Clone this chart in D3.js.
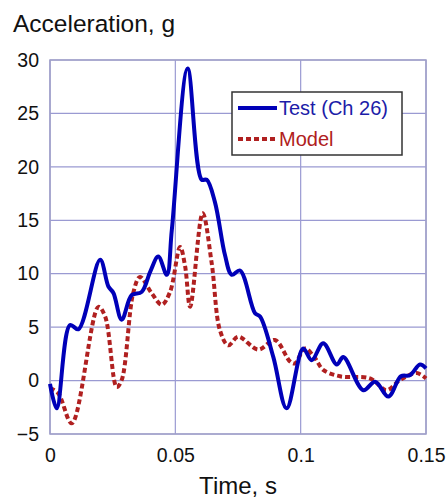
<!DOCTYPE html>
<html><head><meta charset="utf-8">
<script src="https://cdn.jsdelivr.net/npm/d3@7"></script>
<style>body{margin:0;background:#fff}svg{display:block}</style>
</head><body>
<script>
const testT = [0,0.0027,0.008,0.0113,0.02,0.0233,0.0253,0.0286,0.0326,0.0366,0.04,0.0432,0.0466,0.0486,0.0549,0.0605,0.0625,0.0658,0.0698,0.0725,0.0758,0.0818,0.0838,0.0891,0.0944,0.101,0.1044,0.109,0.1144,0.117,0.125,0.1297,0.135,0.140,0.1436,0.1476,0.150];
const testV = [-0.3,-2.6,5.2,4.8,11.3,8.8,8.2,5.7,8.0,8.3,10.2,11.6,9.9,14.1,29.2,18.8,18.8,16.7,11.75,9.9,10.3,6.3,6.0,2.2,-2.6,3.0,1.9,3.5,1.5,2.2,-0.9,-0.1,-1.5,0.4,0.5,1.5,1.15];
const modelT = [0,0.0033,0.0087,0.0193,0.022,0.0266,0.0286,0.0332,0.0359,0.0405,0.0446,0.0479,0.0519,0.0539,0.0559,0.0609,0.0645,0.0678,0.0711,0.0751,0.0831,0.0897,0.0957,0.0977,0.1017,0.1057,0.109,0.1157,0.1277,0.1343,0.1396,0.1463,0.150];
const modelV = [-0.7,-1.2,-4.0,6.9,6.0,-0.6,0.05,8.2,9.7,8.2,7.1,8.3,12.5,10.7,6.9,15.65,11.0,4.7,3.3,4.1,2.9,3.8,1.8,1.6,3.0,2.1,1.0,0.4,0.2,-0.9,0.05,0.7,0.2];
const xTicks = [0,0.05,0.1,0.15];
const xTickLabels = ["0","0.05","0.1","0.15"];
const yTicks = [-5,0,5,10,15,20,25,30];
const seriesNames = ["Test (Ch 26)","Model"];

const W=447,H=500;
const svg=d3.select("body").append("svg").attr("width",W).attr("height",H);
const font="'Liberation Sans', Arial, sans-serif";
const x=d3.scaleLinear().domain([0,0.15]).range([50,426]);
const y=d3.scaleLinear().domain([-5,30]).range([434,60]);
const gridC="#9a9ad2";

const grid=svg.append("g");
grid.selectAll(".gx").data(xTicks).enter().append("line")
 .attr("x1",d=>x(d)).attr("x2",d=>x(d)).attr("y1",y(-5)).attr("y2",y(30))
 .attr("stroke",gridC).attr("stroke-width",1.2);
grid.selectAll(".gy").data(yTicks).enter().append("line")
 .attr("x1",x(0)).attr("x2",x(0.15)).attr("y1",d=>y(d)).attr("y2",d=>y(d))
 .attr("stroke",gridC).attr("stroke-width",1.2);
svg.append("rect").attr("x",x(0)).attr("y",y(30)).attr("width",x(0.15)-x(0)).attr("height",y(-5)-y(30))
 .attr("fill","none").attr("stroke","#a0a0c8").attr("stroke-width",1.5);

const xAxis=svg.append("g").attr("transform",`translate(0,${y(-5)})`)
 .call(d3.axisBottom(x).tickValues(xTicks).tickFormat((d,i)=>xTickLabels[i]).tickSize(0).tickPadding(14));
xAxis.select(".domain").remove();
xAxis.selectAll("text").attr("font-family",font).attr("font-size",19.5).attr("fill","#111");
const yAxis=svg.append("g").attr("transform",`translate(${x(0)},0)`)
 .call(d3.axisLeft(y).tickValues(yTicks).tickFormat(d3.format("d")).tickSize(0).tickPadding(11));
yAxis.select(".domain").remove();
yAxis.selectAll("text").attr("font-family",font).attr("font-size",19.5).attr("fill","#111");

const line=d3.line().x(d=>x(d[0])).y(d=>y(d[1])).curve(d3.curveCatmullRom.alpha(0.5));
svg.append("path").datum(modelT.map((t,i)=>[t,modelV[i]])).attr("d",line)
 .attr("fill","none").attr("stroke","#b02020").attr("stroke-width",4).attr("stroke-dasharray","5,3");
svg.append("path").datum(testT.map((t,i)=>[t,testV[i]])).attr("d",line)
 .attr("fill","none").attr("stroke","#0000b8").attr("stroke-width",4).attr("stroke-linejoin","round");

const lg=svg.append("g");
lg.append("rect").attr("x",232).attr("y",92).attr("width",170).attr("height",63)
 .attr("fill","#fff").attr("stroke","#333").attr("stroke-width",1.5);
lg.append("line").attr("x1",238).attr("x2",277).attr("y1",108).attr("y2",108).attr("stroke","#0000b8").attr("stroke-width",4);
lg.append("text").attr("x",279).attr("y",115).text(seriesNames[0]).attr("font-family",font).attr("font-size",20).attr("fill","#1c1ca8");
lg.append("line").attr("x1",238).attr("x2",277).attr("y1",139).attr("y2",139).attr("stroke","#b02020").attr("stroke-width",4).attr("stroke-dasharray","5,3");
lg.append("text").attr("x",279).attr("y",146).text(seriesNames[1]).attr("font-family",font).attr("font-size",20).attr("fill","#b02020");

svg.append("text").attr("x",13).attr("y",32).text("Acceleration, g").attr("font-family",font).attr("font-size",24.5).attr("fill","#111");
svg.append("text").attr("x",238).attr("y",494).attr("text-anchor","middle").text("Time, s").attr("font-family",font).attr("font-size",24).attr("fill","#111");
</script>
</body></html>
